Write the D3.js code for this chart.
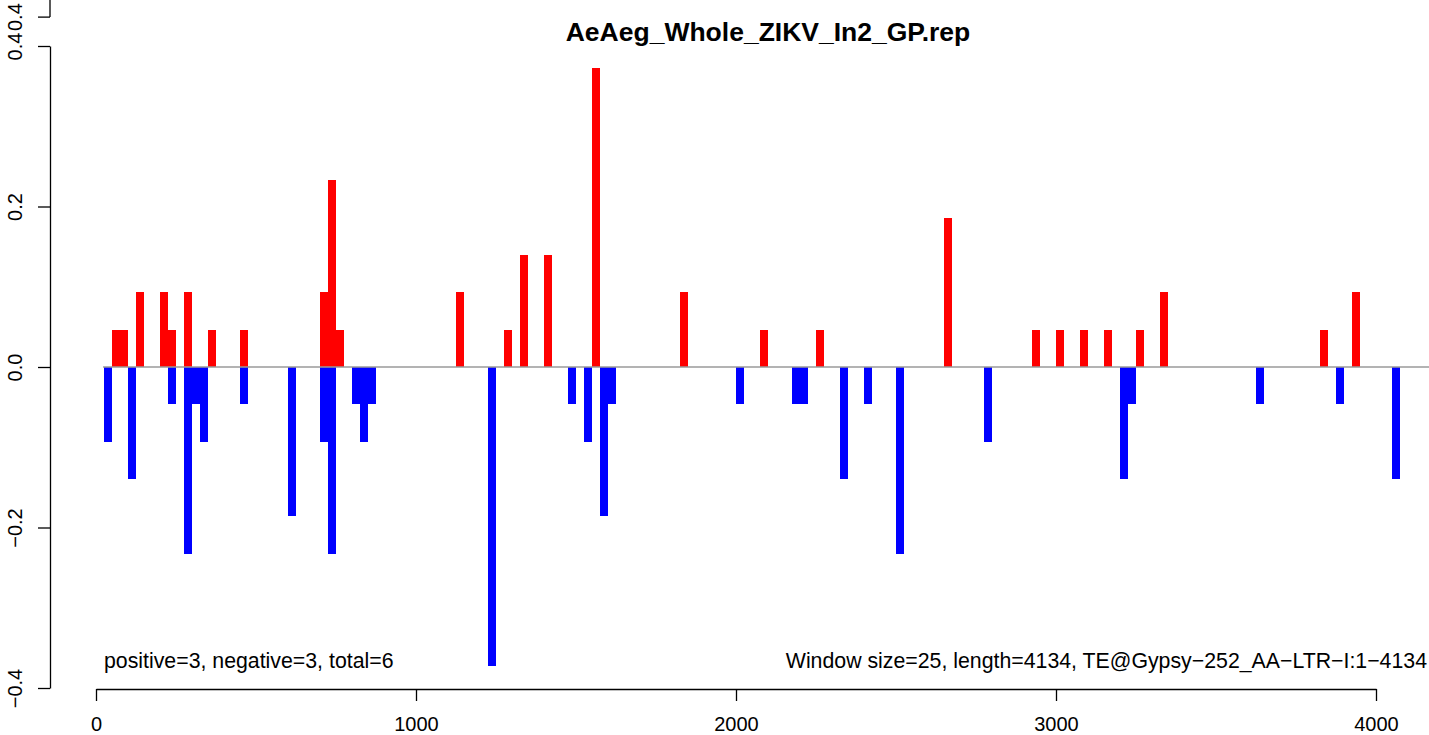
<!DOCTYPE html>
<html>
<head>
<meta charset="utf-8">
<script src="https://cdn.jsdelivr.net/npm/d3@7"></script>
<style>
  body { margin: 0; background: #fff; }
  text { font-family: "Liberation Sans", Arial, Helvetica, sans-serif; }
</style>
</head>
<body>
<svg id="chart" width="1429" height="735"></svg>
<script>
// window starts (bp) and scores for positive-strand windows
var posStart = [50, 75, 125, 200, 225, 275, 350, 450, 700, 725, 750, 1125, 1275, 1325, 1400, 1550,
                1825, 2075, 2250, 2650, 2925, 3000, 3075, 3150, 3250, 3325, 3825, 3925];
var posValue = [0.0465, 0.0465, 0.093, 0.093, 0.0465, 0.093, 0.0465, 0.0465, 0.093, 0.2325, 0.0465, 0.093,
                0.0465, 0.1395, 0.1395, 0.372, 0.093, 0.0465, 0.0465, 0.186, 0.0465, 0.0465, 0.0465, 0.0465,
                0.0465, 0.093, 0.0465, 0.093];

// negative-strand windows
var negStart = [25, 100, 225, 275, 300, 325, 450, 600, 700, 725, 800, 825, 850, 1225, 1475, 1525, 1575, 1600,
                2000, 2175, 2200, 2325, 2400, 2500, 2775, 3200, 3225, 3625, 3875, 4050];
var negValue = [-0.093, -0.1395, -0.0465, -0.2325, -0.0465, -0.093, -0.0465, -0.186, -0.093, -0.2325, -0.0465,
                -0.093, -0.0465, -0.372, -0.0465, -0.093, -0.186, -0.0465, -0.0465, -0.0465, -0.0465, -0.1395,
                -0.0465, -0.2325, -0.093, -0.1395, -0.0465, -0.0465, -0.0465, -0.1395];

var windowSize = 25;
var xTicks = [0, 1000, 2000, 3000, 4000];
var yTicks = [-0.4, -0.2, 0.0, 0.2, 0.4];
var strayTick = [0.436];   // the extra "0.4" drawn above the axis

var title = "AeAeg_Whole_ZIKV_In2_GP.rep";
var leftNote = "positive=3, negative=3, total=6";
var rightNote = "Window size=25, length=4134, TE@Gypsy\u2212252_AA\u2212LTR\u2212I:1\u22124134";

var W = 1429, H = 735;
var svg = d3.select("#chart");

var x = d3.scaleLinear().domain([0, 4000]).range([96, 1376]);
var y = d3.scaleLinear().domain([-0.4, 0.4]).range([688, 46]);

function toBars(starts, values) {
    return starts.map(function (s, i) { return {start: s, value: values[i]}; });
}

// bars
function drawBars(data, colour) {
    svg.append("g")
        .selectAll("rect")
        .data(data)
        .enter()
        .append("rect")
        .attr("x", function (d) { return x(d.start); })
        .attr("width", function (d) { return x(d.start + windowSize) - x(d.start); })
        .attr("y", function (d) { return y(Math.max(0, d.value)); })
        .attr("height", function (d) { return Math.abs(y(d.value) - y(0)); })
        .attr("fill", colour)
        .attr("shape-rendering", "crispEdges");
}
drawBars(toBars(posStart, posValue), "#ff0000");
drawBars(toBars(negStart, negValue), "#0000ff");

// zero line
svg.append("line")
    .attr("x1", x(22)).attr("x2", W)
    .attr("y1", y(0)).attr("y2", y(0))
    .attr("stroke", "#9a9a9a")
    .attr("stroke-width", 1.5);

// x axis
var xAxis = svg.append("g")
    .attr("transform", "translate(0," + 689 + ")")
    .call(d3.axisBottom(x).tickValues(xTicks).tickSize(12).tickSizeOuter(0).tickPadding(16)
        .tickFormat(d3.format("d")));

// y axis
var yAxis = svg.append("g")
    .attr("transform", "translate(50,0)")
    .call(d3.axisLeft(y).tickValues(yTicks).tickSize(12).tickSizeOuter(0)
        .tickFormat(function (d) { return d3.format(".1f")(d).replace("-", "\u2212"); }));

// stray piece of axis at the very top
var yTop = svg.append("g").attr("transform", "translate(50,0)");
yTop.append("line")
    .attr("x1", 0).attr("x2", 0)
    .attr("y1", 0).attr("y2", y(strayTick[0]))
    .attr("stroke", "#000");
yTop.selectAll(".stray")
    .data(strayTick)
    .enter()
    .append("line")
    .attr("x1", -12).attr("x2", 0)
    .attr("y1", function (d) { return y(d); })
    .attr("y2", function (d) { return y(d); })
    .attr("stroke", "#000");

[xAxis, yAxis, yTop].forEach(function (g) {
    g.selectAll("path, line").attr("stroke", "#000").attr("stroke-width", 1.3);
    g.selectAll("text").attr("fill", "#000").style("font-size", "20px");
});

// y labels rotated like R
yAxis.selectAll(".tick text")
    .attr("x", null).attr("dy", null)
    .attr("text-anchor", "middle")
    .attr("transform", "translate(-28,0) rotate(-90)");

yTop.selectAll(".strayLabel")
    .data(strayTick)
    .enter()
    .append("text")
    .attr("text-anchor", "middle")
    .attr("transform", function (d) { return "translate(-28," + y(d) + ") rotate(-90)"; })
    .style("font-size", "20px")
    .text("0.4");

// title and notes
svg.append("text")
    .attr("x", 768).attr("y", 41)
    .attr("text-anchor", "middle")
    .style("font-size", "26.5px")
    .style("font-weight", "bold")
    .text(title);

svg.append("text")
    .attr("x", 104).attr("y", 668)
    .style("font-size", "21.3px")
    .text(leftNote);

svg.append("text")
    .attr("x", 1427).attr("y", 668)
    .attr("text-anchor", "end")
    .style("font-size", "21.3px")
    .text(rightNote);
</script>
</body>
</html>
